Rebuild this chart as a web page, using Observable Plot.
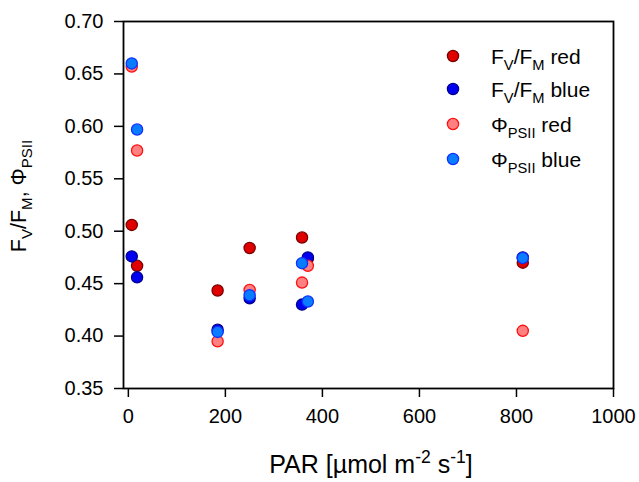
<!DOCTYPE html>
<html>
<head>
<meta charset="utf-8">
<script src="https://cdn.jsdelivr.net/npm/d3@7"></script>
<script src="https://cdn.jsdelivr.net/npm/@observablehq/plot@0.6"></script>
<style>
  html, body { margin: 0; padding: 0; background: #fff; }
  #chart svg { display: block; }
</style>
</head>
<body>
<div id="chart"></div>
<script>
// ---- data ----
const par = [7, 18, 184, 250, 358, 370, 813];
const fvfmRed  = [0.506, 0.467, 0.4435, 0.484, 0.494, 0.474, 0.470];
const fvfmBlue = [0.476, 0.456, 0.406, 0.436, 0.430, 0.475, 0.475];
const phiRed   = [0.657, 0.577, 0.395, 0.444, 0.451, 0.467, 0.405];
const phiBlue  = [0.660, 0.597, 0.404, 0.439, 0.4695, 0.433, 0.4745];

const xTicks = [0, 200, 400, 600, 800, 1000];
const yTicks = [0.35, 0.40, 0.45, 0.50, 0.55, 0.60, 0.65, 0.70];

const seriesNames = ["FvFm red", "FvFm blue", "Phi red", "Phi blue"];
const seriesValues = [fvfmRed, fvfmBlue, phiRed, phiBlue];
const seriesFill   = ["#e00000", "#0000f0", "#ff8080", "#0a7cff"];
const seriesStroke = ["#7a0000", "#000090", "#ff1010", "#1030ff"];
// legend labels: [text, kind]
const legendLabels = [
  [["F",""],["V","sub"],["/F",""],["M","sub"],[" red",""]],
  [["F",""],["V","sub"],["/F",""],["M","sub"],[" blue",""]],
  [["Φ",""],["PSII","sub"],[" red",""]],
  [["Φ",""],["PSII","sub"],[" blue",""]]
];

const rows = [];
seriesNames.forEach((s, si) => {
  par.forEach((p, i) => rows.push({series: s, si, par: p, value: seriesValues[si][i]}));
});

const font = "Liberation Sans, Arial, Helvetica, sans-serif";
const W = 639, H = 482;

const chart = Plot.plot({
  width: W,
  height: H,
  marginLeft: 123,
  marginRight: 26,
  marginTop: 21,
  marginBottom: 94,
  style: {fontFamily: font, fontSize: "20px", color: "black", background: "white"},
  x: {domain: [-10, 1000]},
  y: {domain: [0.35, 0.70]},
  marks: [
    Plot.axisX({ticks: xTicks, tickFormat: d => String(d), tickSize: 9, tickPadding: 11, label: null, fontSize: 20, strokeWidth: 1.5}),
    Plot.axisY({ticks: yTicks, tickFormat: d3.format(".2f"), tickSize: 9, tickPadding: 11, label: null, fontSize: 20, strokeWidth: 1.5}),
    Plot.frame({stroke: "black", strokeWidth: 1.8}),
    Plot.dot(rows, {
      x: "par", y: "value", r: 5.6,
      fill: d => seriesFill[d.si],
      stroke: d => seriesStroke[d.si],
      strokeWidth: 1.3
    })
  ]
});
document.getElementById("chart").appendChild(chart);

const svg = d3.select(chart);

function addRich(g, parts, size) {
  parts.forEach(([t, kind], k) => {
    const ts = g.append("tspan").text(t);
    if (kind === "sub") {
      ts.attr("font-size", size * 0.7).attr("dy", size * 0.3);
    } else if (kind === "sup") {
      ts.attr("font-size", size * 0.7).attr("dy", -size * 0.42);
    } else {
      ts.attr("font-size", size);
      const prev = parts[k - 1];
      if (prev && prev[1] === "sub") ts.attr("dy", -size * 0.3);
      if (prev && prev[1] === "sup") ts.attr("dy", size * 0.42);
    }
  });
}

// y axis title
const yt = svg.append("text")
  .attr("transform", "translate(26,196) rotate(-90)")
  .attr("text-anchor", "middle")
  .attr("font-family", font)
  .attr("fill", "black");
addRich(yt, [["F",""],["V","sub"],["/F",""],["M","sub"],[", Φ",""],["PSII","sub"]], 21.5);

// x axis title
const xt = svg.append("text")
  .attr("x", 371).attr("y", 473)
  .attr("text-anchor", "middle")
  .attr("font-family", font)
  .attr("fill", "black");
addRich(xt, [["PAR [µmol m",""],["-2","sup"],[" s",""],["-1","sup"],["]",""]], 25);

// legend
const legendY = [56, 89, 124, 159];
const lg = svg.append("g").attr("font-family", font).attr("text-anchor", "start");
seriesNames.forEach((s, i) => {
  lg.append("circle").attr("cx", 453).attr("cy", legendY[i]).attr("r", 5.6)
    .attr("fill", seriesFill[i]).attr("stroke", seriesStroke[i]).attr("stroke-width", 1.3);
  const t = lg.append("text").attr("x", 491).attr("y", legendY[i] + 7.5)
    .attr("text-anchor", "start").attr("fill", "black");
  addRich(t, legendLabels[i], 21);
});
</script>
</body>
</html>
